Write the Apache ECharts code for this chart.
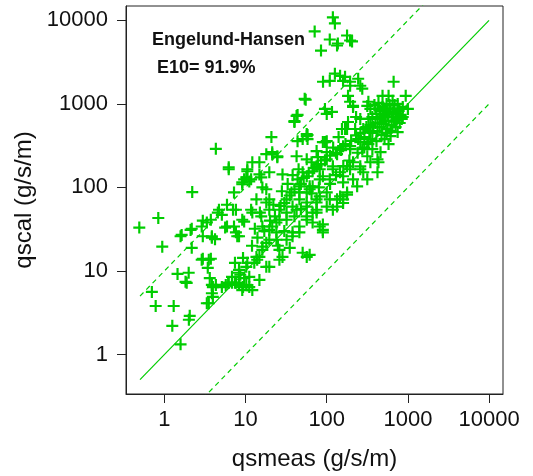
<!DOCTYPE html>
<html>
<head>
<meta charset="utf-8">
<script src="https://cdn.jsdelivr.net/npm/echarts@6/dist/echarts.min.js"></script>
<style>
  html, body { margin: 0; padding: 0; background: #fff; }
  #chart { width: 533px; height: 476px; }
</style>
</head>
<body>
<div id="chart"></div>
<script>
const qsmeas = [
  71, 119, 126, 109, 137, 178, 194, 205, 85, 134,
  109, 126, 146, 159, 194, 244, 259, 90, 168, 274, 53.5, 183, 194, 667, 194,
  116, 100, 95, 183, 168, 154, 211, 326, 487, 578, 940, 864, 1000, 259, 282, 316, 460, 422, 612, 748,
  56.7, 50.5, 95, 146, 194, 56.7, 75, 100, 119, 159, 259, 345, 46, 61.6, 82, 109, 134, 159, 75, 56.7,
  82, 89.6, 46, 50.5, 56.7,
  345, 387, 434, 487, 546, 612, 686, 770, 864, 365, 410, 460, 515, 578, 648, 727, 815, 345, 398, 447,
  501, 562, 630, 706, 793, 365, 422, 473, 546, 612, 460, 530, 595, 667, 748, 398, 326, 308, 291, 326,
  365, 410, 515, 578, 274, 244, 224, 230, 501, 562, 630, 447, 530, 595, 667, 473, 422, 706, 376, 335,
  840, 748, 648,
  4.3, 2.2, 6.2, 10.5, 9.6, 11.1, 14.8, 14.8, 20.8, 21.3, 24.6, 40, 42.5, 56.7, 43.7, 58, 100, 178, 211, 316,
  3.84, 4.3, 5.1, 6.2, 8.3, 11.1, 14.8, 3.84, 18, 1.99, 1.82, 2.88, 3.52, 2.17, 1.58, 2.1, 2.88, 3.73, 4.7, 5.1,
  5.9, 7.2, 3.84, 7.2, 7.6, 9.1, 11.7, 15.6, 19.6, 19.6, 18, 21.3, 26.1, 32, 36.8, 43.7, 56.7, 67, 77.6, 100,
  134, 159, 194, 259, 345, 316, 434, 211, 178, 89.6, 67, 56.7, 46, 37.9, 32, 26.1, 24, 19.6, 16.1, 14.8,
  12.8, 10.2, 8.3, 6.8, 32, 37.9, 46, 67, 75, 100, 134, 178, 237, 316, 422, 26.1, 35,
  7.6, 9.6, 13.6, 18, 12.1, 16.1, 19.6, 24, 32, 42.5, 56.7, 75, 61.6, 19.6, 11.1, 8.3, 7.6, 9.1, 89.6, 28.5,
  16.1, 13.6, 18, 24, 37.9, 26.1,
  89.6, 159, 146, 178, 119, 67, 56.7, 46, 61.6, 82, 109, 146, 194, 259, 75, 100, 56.7, 50.5, 82, 119,
  159, 211, 282,
  55, 43.7, 40, 58, 21.3, 24.6, 6.2, 10.5, 19.6, 10.2, 11.7, 15.6, 9.1, 16.1, 28.5, 42.5, 89.6, 75,
  0.49, 0.84, 0.94, 1.63, 2.17, 2.97, 2.97, 4.2, 7.0, 5.9, 7.9, 9.1, 2.97, 3.73, 3.42, 1.45, 1.88, 0.7, 0.78, 1.3,
  1.25, 2.05, 2.0, 1.58, 3.33, 3.52, 3.95, 3.62, 3.95, 6.1, 7.4, 8.3, 9.3, 4.55, 5.6, 3.33, 3.84, 8.6, 7.4, 9.3,
  12.1, 18, 8.3, 10.5, 13.9, 10.2, 12.1, 9.6, 5.7, 6.8,
  12, 14, 17, 20, 23, 27, 30, 35, 40, 48, 52, 60, 70, 85, 95, 110, 130, 150, 170, 200,
  230, 260, 13, 15, 22, 28, 33, 38, 45, 65, 78, 120, 140, 25, 30, 40, 48, 65, 80, 110,
  130, 160, 190, 240, 290
]
const qscal = [
  7370, 10870, 9200, 5900, 5280, 6590, 5740, 5590, 4350, 5000,
  1890, 2300, 2170, 1890, 1840, 2000, 1650, 1840, 2110, 1520, 1150, 1250, 1060, 1840, 1650,
  801, 758, 871, 607, 500, 500, 946, 1060, 1250, 1250, 1250, 697, 871, 660, 500, 349, 264, 217, 412, 460,
  412, 379, 349, 287, 312, 217, 179, 217, 165, 136, 165, 200, 103, 95, 78, 72, 59, 65, 54, 45,
  34, 29, 29, 16.5, 14.7,
  871, 973, 1030, 920, 1000, 871, 973, 824, 920, 697, 758, 660, 737, 697, 779, 660, 737, 558, 590, 528,
  574, 500, 558, 528, 590, 448, 473, 424, 448, 473, 824, 624, 801, 624, 871, 871, 660, 528, 400, 330,
  287, 358, 379, 330, 287, 379, 500, 697, 871, 758, 697, 697, 824, 973, 871, 590, 660, 758, 528, 473,
  660, 1000, 1090,
  290, 88, 165, 156, 125, 118, 200, 143, 400, 250, 230, 607, 717, 436, 358, 379, 358, 500, 920, 946,
  6.8, 6.8, 6.4, 7.2, 7.2, 6.4, 7.8, 5.4, 11.2, 9.5, 7.4, 13.6, 13.6, 18.9, 26, 31, 34, 41, 54, 47,
  62, 87, 26, 34, 29, 41, 54, 45, 54, 72, 95, 34, 41, 72, 87, 125, 136, 156, 189, 264,
  250, 312, 287, 349, 379, 236, 200, 200, 179, 136, 103, 87, 72, 59, 50, 54, 29, 23.6, 19.5, 14.7,
  12.5, 11.2, 9.5, 8.5, 23.6, 29, 34, 38, 50, 59, 72, 87, 103, 125, 152, 17.9, 18.9,
  54, 39, 72, 66, 50, 34, 31, 38, 41, 54, 59, 66, 15.6, 11.2, 8.5, 10.3, 7.2, 5.9, 31, 14.7,
  17.9, 14.7, 21.7, 23.6, 26, 13.6,
  36, 72, 78, 82, 54, 50, 41, 87, 103, 125, 125, 152, 165, 179, 72, 87, 66, 152, 165, 179,
  115, 125, 152,
  1120, 737, 624, 424, 264, 236, 174, 165, 152, 132, 125, 132, 109, 100, 143, 236, 349, 272,
  33, 43, 19.5, 27, 32, 40, 26, 24, 54, 34, 26, 115, 14, 14, 10.9, 9.2, 7.2, 5.6, 3.8, 3.8,
  2.2, 2.9, 2.6, 1.32, 4.1, 4.1, 4.9, 8.2, 6.4, 7.2, 7.2, 6.8, 6.4, 50, 33, 38, 25, 9.0, 12.5, 14.3,
  200, 250, 26, 12.5, 13.6, 6.8, 5.9, 8.2, 6.8, 7.2,
  20, 25, 30, 40, 45, 60, 65, 80, 95, 110, 130, 150, 170, 190, 210, 240, 260, 280, 330, 360,
  420, 450, 32, 50, 62, 90, 110, 140, 165, 200, 230, 300, 400, 20, 30, 45, 55, 85, 100, 110,
  140, 180, 210, 260, 300
]
// reference lines: 1:1 and factor 10 either side
const lineX = [0.5, 10000]
const oneToOne = [0.5, 10000]
const tenAbove = [5, 100000]
const tenBelow = [0.05, 1000]
const tickValues = [1, 10, 100, 1000, 10000]

const green = '#00CD00'
const font = 'Liberation Sans'
const plus = 'path://M4.5,0H6.5V4.5H11V6.5H6.5V11H4.5V6.5H0V4.5H4.5Z'

const logAxis = (name, gap, margin) => ({
  type: 'log',
  logBase: 10,
  min: 0.336,
  max: 14860,
  name: name,
  nameLocation: 'middle',
  nameGap: gap,
  nameTextStyle: { fontFamily: font, fontSize: 24, color: '#111' },
  axisLine: { show: true, lineStyle: { color: '#222', width: 1 } },
  axisTick: { show: true, inside: false, length: 9, customValues: tickValues, lineStyle: { color: '#222' } },
  axisLabel: {
    customValues: tickValues,
    margin: margin,
    fontFamily: font,
    fontSize: 22,
    color: '#111',
    formatter: v => String(Math.round(v))
  },
  splitLine: { show: false },
  minorTick: { show: false }
})

const chart = echarts.init(document.getElementById('chart'))
chart.setOption({
  animation: false,
  backgroundColor: '#fff',
  grid: {
    left: 126, right: 30, top: 6, bottom: 82,
    show: true, borderColor: '#222', borderWidth: 1, backgroundColor: 'transparent'
  },
  xAxis: logAxis('qsmeas (g/s/m)', 53, 15),
  yAxis: logAxis('qscal (g/s/m)', 90, 18),
  graphic: [
    { type: 'text', left: 152, top: 31, style: { text: 'Engelund-Hansen', font: 'bold 18px "Liberation Sans"', fill: '#111' } },
    { type: 'text', left: 157, top: 59, style: { text: 'E10= 91.9%', font: 'bold 18px "Liberation Sans"', fill: '#111' } }
  ],
  series: [
    {
      type: 'scatter',
      data: qsmeas.map((x, i) => [x, qscal[i]]),
      symbol: plus,
      symbolSize: 12,
      itemStyle: { color: green, opacity: 1 }
    },
    {
      type: 'line',
      data: lineX.map((x, i) => [x, oneToOne[i]]),
      symbol: 'none',
      lineStyle: { color: green, width: 1.2 }
    },
    {
      type: 'line',
      data: lineX.map((x, i) => [x, tenAbove[i]]),
      symbol: 'none',
      lineStyle: { color: green, width: 1.2, type: [5, 4] }
    },
    {
      type: 'line',
      data: lineX.map((x, i) => [x, tenBelow[i]]),
      symbol: 'none',
      lineStyle: { color: green, width: 1.2, type: [5, 4] }
    }
  ]
})
</script>
</body>
</html>
